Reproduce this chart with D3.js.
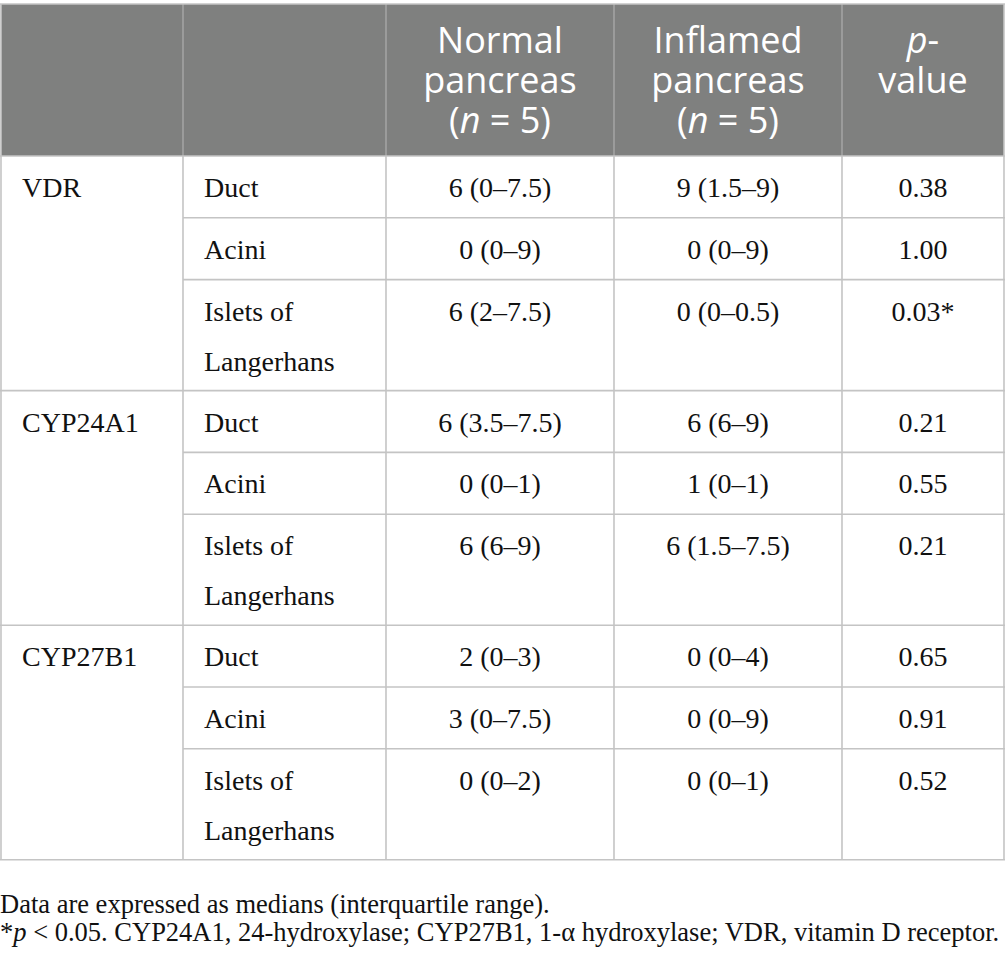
<!DOCTYPE html>
<html>
  <head>
    <meta charset="utf-8" />
    <script src="https://d3js.org/d3.v7.min.js"></script>
    <style>
      body { margin: 0; background: #fff; }
      .grid { stroke: #c4c4c4; stroke-width: 1.6; fill: none; }
      .body-text { font-family: "Liberation Serif", serif; font-size: 28px; fill: #111; }
      .head-text { font-family: "Open Sans", sans-serif; font-size: 36px; fill: #fff; }
      .note { font-family: "Liberation Serif", serif; font-size: 26.5px; fill: #111; }
    </style>
  </head>
  <body>
    <svg id="table" width="1005" height="975"></svg>

    <script>
      // table content
      const markers = ["VDR", "CYP24A1", "CYP27B1"];
      const regions = ["Duct", "Acini", "Islets of|Langerhans"];
      const normalVals = [
        "6 (0–7.5)", "0 (0–9)", "6 (2–7.5)",
        "6 (3.5–7.5)", "0 (0–1)", "6 (6–9)",
        "2 (0–3)", "3 (0–7.5)", "0 (0–2)"
      ];
      const inflamedVals = [
        "9 (1.5–9)", "0 (0–9)", "0 (0–0.5)",
        "6 (6–9)", "1 (0–1)", "6 (1.5–7.5)",
        "0 (0–4)", "0 (0–9)", "0 (0–1)"
      ];
      const pVals = ["0.38", "1.00", "0.03*", "0.21", "0.55", "0.21", "0.65", "0.91", "0.52"];
      // header lines; [text, italic] pieces
      const headers = [
        [],
        [],
        [[["Normal", 0]], [["pancreas", 0]], [["(", 0], ["n", 1], [" = 5)", 0]]],
        [[["Inflamed", 0]], [["pancreas", 0]], [["(", 0], ["n", 1], [" = 5)", 0]]],
        [[["p", 1], ["-", 0]], [["value", 0]]]
      ];
      const notes = [
        [["Data are expressed as medians (interquartile range).", 0]],
        [["*", 0], ["p", 1], [" < 0.05. CYP24A1, 24-hydroxylase; CYP27B1, 1-α hydroxylase; VDR, vitamin D receptor.", 0]]
      ];

      const svg = d3.select("#table");
      const colEdges = [1, 183, 386, 614, 842, 1004];
      const headTop = 4, headBottom = 156;
      const lineH = 61.8, extraLine = 49.2;

      // build rows
      const rows = [];
      let y = headBottom;
      markers.forEach((m, gi) => {
        regions.forEach((r, ri) => {
          const lines = r.split("|");
          const h = lineH + (lines.length - 1) * extraLine;
          const i = gi * regions.length + ri;
          rows.push({
            marker: ri === 0 ? m : "",
            region: lines,
            cells: [normalVals[i], inflamedVals[i], pVals[i]],
            y0: y, y1: y + h, groupEnd: ri === regions.length - 1
          });
          y += h;
        });
      });
      const tableBottom = y;

      // header band
      svg.append("rect")
        .attr("x", colEdges[0]).attr("y", headTop)
        .attr("width", colEdges[5] - colEdges[0]).attr("height", headBottom - headTop)
        .attr("fill", "#7f807f");

      svg.selectAll(".hsep")
        .data(colEdges.slice(1, 5))
        .join("line")
        .attr("x1", d => d).attr("x2", d => d)
        .attr("y1", headTop).attr("y2", headBottom)
        .attr("stroke", "#a3a3a3").attr("stroke-width", 1.6);

      const centers = colEdges.slice(0, 5).map((e, i) => (e + colEdges[i + 1]) / 2);

      headers.forEach((lines, ci) => {
        lines.forEach((parts, li) => {
          const t = svg.append("text")
            .attr("class", "head-text")
            .attr("x", centers[ci])
            .attr("y", 53 + li * 40)
            .attr("text-anchor", "middle");
          parts.forEach(p => t.append("tspan").attr("font-style", p[1] ? "italic" : null).text(p[0]));
        });
      });

      // grid lines
      const g = svg.append("g");
      g.append("line").attr("class", "grid")
        .attr("x1", colEdges[0] - 1).attr("x2", colEdges[5] + 1).attr("y1", headTop).attr("y2", headTop);
      g.append("line").attr("class", "grid")
        .attr("x1", colEdges[0] - 1).attr("x2", colEdges[5] + 1).attr("y1", headBottom).attr("y2", headBottom);
      g.selectAll(".rowline")
        .data(rows)
        .join("line")
        .attr("class", "grid")
        .attr("x1", d => d.groupEnd ? colEdges[0] - 1 : colEdges[1])
        .attr("x2", colEdges[5] + 1)
        .attr("y1", d => d.y1).attr("y2", d => d.y1);
      g.selectAll(".vline")
        .data(colEdges)
        .join("line")
        .attr("class", "grid")
        .attr("x1", d => d).attr("x2", d => d)
        .attr("y1", headBottom).attr("y2", tableBottom);
      g.selectAll(".outer")
        .data([colEdges[0], colEdges[5]])
        .join("line")
        .attr("class", "grid")
        .attr("x1", d => d).attr("x2", d => d)
        .attr("y1", headTop).attr("y2", headBottom);

      // body text
      const rowG = svg.selectAll(".row")
        .data(rows)
        .join("g");

      rowG.append("text")
        .attr("class", "body-text")
        .attr("x", 22)
        .attr("y", d => d.y0 + 41)
        .text(d => d.marker);

      rowG.each(function (d) {
        const sel = d3.select(this);
        d.region.forEach((ln, li) => {
          sel.append("text")
            .attr("class", "body-text")
            .attr("x", 204)
            .attr("y", d.y0 + 41 + li * 50)
            .text(ln);
        });
        d.cells.forEach((c, ci) => {
          sel.append("text")
            .attr("class", "body-text")
            .attr("x", centers[ci + 2])
            .attr("y", d.y0 + 41)
            .attr("text-anchor", "middle")
            .text(c);
        });
      });

      // footnotes
      notes.forEach((parts, i) => {
        const t = svg.append("text")
          .attr("class", "note")
          .attr("x", 0)
          .attr("y", 913 + i * 28);
        parts.forEach(p => t.append("tspan").attr("font-style", p[1] ? "italic" : null).text(p[0]));
      });
    </script>
  </body>
</html>
